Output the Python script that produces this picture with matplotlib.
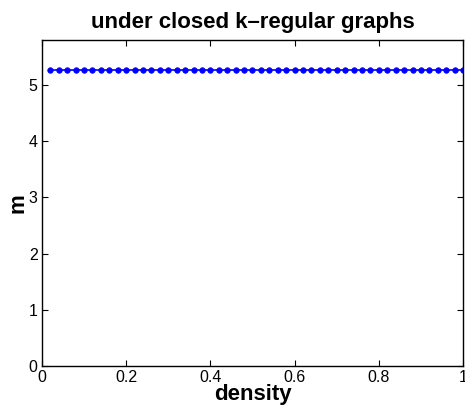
import numpy as np
import matplotlib
matplotlib.use("Agg")
import matplotlib.pyplot as plt

plt.rcParams['font.family'] = ['Liberation Sans', 'DejaVu Sans']

# density sampled in steps of 0.02, m stays flat
density = [round(0.02 * (i + 1), 2) for i in range(50)]
m = [5.27] * 50
xticks = [0, 0.2, 0.4, 0.6, 0.8, 1]
xticklabels = ['0', '0.2', '0.4', '0.6', '0.8', '1']
yticks = [0, 1, 2, 3, 4, 5]

fig = plt.figure(figsize=(4.65, 4.07), dpi=100)
ax = fig.add_axes([0.090, 0.1007, 0.906, 0.801])
ax.plot(density, m, '-', color='#0000ff', marker='o', markersize=4, markeredgewidth=0.5, linewidth=1.2)

ax.set_xlim(0, 1)
ax.set_ylim(0, 5.8)
ax.set_xticks(xticks)
ax.set_xticklabels(xticklabels)
ax.set_yticks(yticks)
ax.tick_params(direction='in', length=4, labelsize=11.5, top=True, right=True, pad=3)
for s in ax.spines.values():
    s.set_linewidth(1.0)

ax.set_xlabel('density', fontsize=16, fontweight='bold', labelpad=-1)
ax.set_ylabel('m', fontsize=16, fontweight='bold', labelpad=0)
ax.set_title('under closed k\u2013regular graphs', fontsize=16, fontweight='bold', pad=9)

fig.savefig('out.png', dpi=100)
